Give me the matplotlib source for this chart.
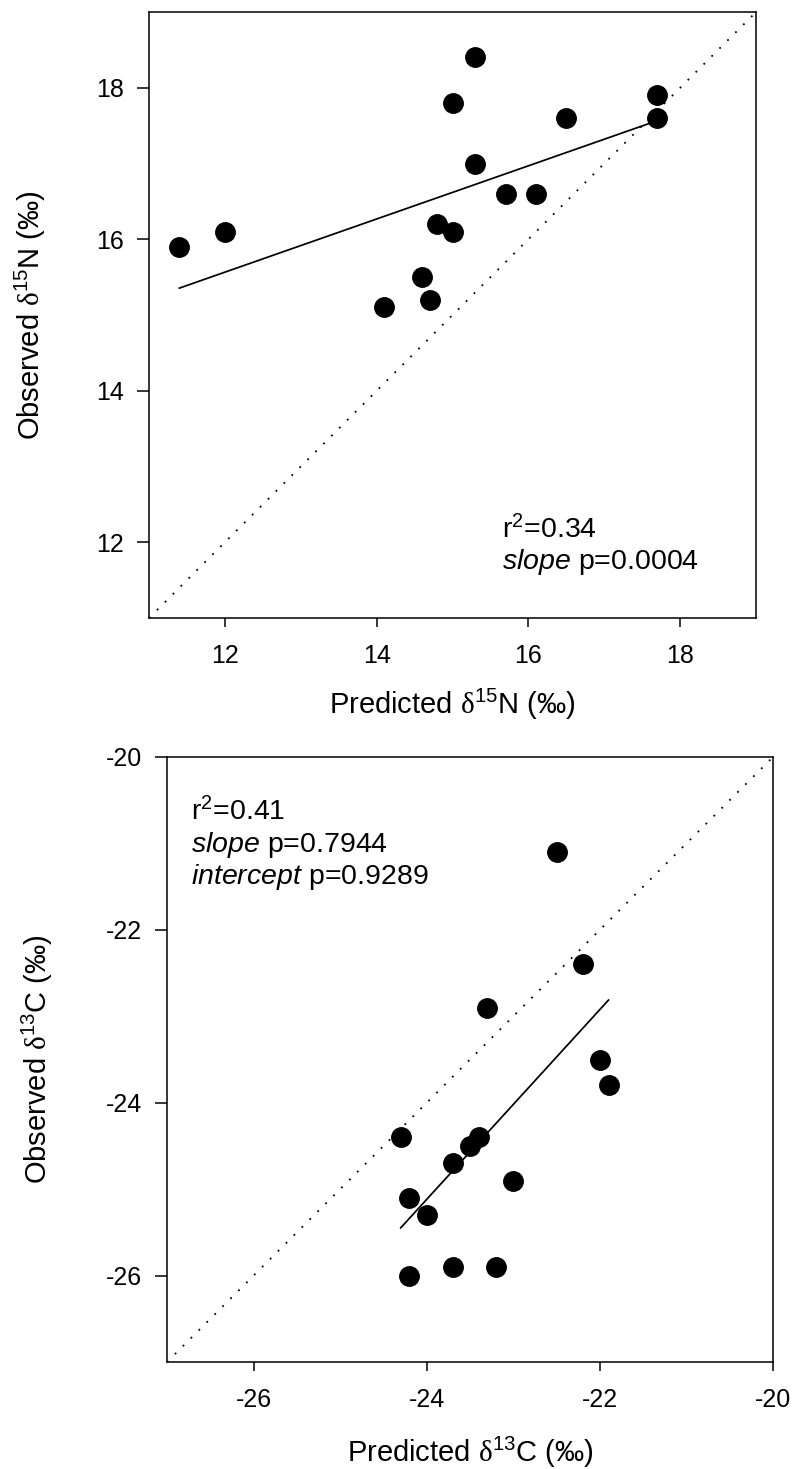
import numpy as np
import matplotlib
matplotlib.use("Agg")
import matplotlib.pyplot as plt

plt.rcParams["font.family"] = ["Liberation Sans", "DejaVu Sans"]
plt.rcParams["mathtext.fontset"] = "custom"
plt.rcParams["mathtext.rm"] = "Liberation Sans"
plt.rcParams["mathtext.it"] = "Liberation Sans:italic"
plt.rcParams["mathtext.sf"] = "Liberation Serif"
plt.rcParams["mathtext.default"] = "regular"
plt.rcParams["axes.unicode_minus"] = False

# nitrogen: predicted vs observed d15N
n_pred = [11.4, 12.0, 14.1, 14.6, 14.7, 14.8, 15.0, 15.7, 16.1,
          15.3, 15.0, 16.5, 15.3, 17.7, 17.7]
n_obs = [15.9, 16.1, 15.1, 15.5, 15.2, 16.2, 16.1, 16.6, 16.6,
         18.4, 17.8, 17.6, 17.0, 17.9, 17.6]
n_lim = [11, 19]
n_ticks = [12, 14, 16, 18]
n_notes = [r"r$^{2}$=0.34", r"$\mathit{slope}$ p=0.0004"]

# carbon: predicted vs observed d13C
c_pred = [-22.2, -23.3, -22.0, -21.9, -24.3, -23.4, -23.5, -23.7,
          -23.0, -24.2, -24.0, -24.2, -23.7, -23.2, -22.5]
c_obs = [-22.4, -22.9, -23.5, -23.8, -24.4, -24.4, -24.5, -24.7,
         -24.9, -25.1, -25.3, -26.0, -25.9, -25.9, -21.1]
c_lim = [-27, -20]
c_ticks = [-26, -24, -22, -20]
c_notes = [r"r$^{2}$=0.41", r"$\mathit{slope}$ p=0.7944",
           r"$\mathit{intercept}$ p=0.9289"]


def panel(ax, pred, obs, lim, ticks, iso, notes, note_x, note_y, ylab_x, xlab_y):
    pred = np.asarray(pred)
    obs = np.asarray(obs)

    # 1:1 line
    ax.plot(lim, lim, color="k", lw=1.3, ls=(0, (1, 5.2)), zorder=1)

    # least squares fit over the range of predictions
    slope, icpt = np.polyfit(pred, obs, 1)
    xs = np.array([pred.min(), pred.max()])
    ax.plot(xs, slope * xs + icpt, color="k", lw=1.25, zorder=2)

    ax.plot(pred, obs, "o", ms=14, color="k", mec="k", zorder=3)

    ax.set_xlim(lim)
    ax.set_ylim(lim)
    ax.set_xticks(ticks)
    ax.set_yticks(ticks)
    ax.tick_params(axis="x", length=6.5, width=1.1, pad=12, labelsize=18)
    ax.tick_params(axis="y", length=9, width=1.1, pad=9, labelsize=18)
    for sp in ax.spines.values():
        sp.set_linewidth(1.1)

    ax.set_xlabel("Predicted $\\mathsf{\\delta}^{%s}$%s (‰)" % iso, fontsize=21)
    ax.set_ylabel("Observed $\\mathsf{\\delta}^{%s}$%s (‰)" % iso, fontsize=21)
    ax.xaxis.set_label_coords(0.5, xlab_y)
    ax.yaxis.set_label_coords(ylab_x, 0.5)

    for s, y in zip(notes, note_y):
        ax.text(note_x, y, s, transform=ax.transAxes, fontsize=20.5,
                va="baseline", ha="left")


fig = plt.figure(figsize=(7.96, 14.69), dpi=100)
ax1 = fig.add_axes([0.1872, 0.5793, 0.7626, 0.4125])
ax2 = fig.add_axes([0.2098, 0.0728, 0.7613, 0.4119])

panel(ax1, n_pred, n_obs, n_lim, n_ticks, ("15", "N"), n_notes,
      0.5815, [0.132, 0.081], -0.166, -0.114)
panel(ax2, c_pred, c_obs, c_lim, c_ticks, ("13", "C"), c_notes,
      0.040, [0.896, 0.8435, 0.790], -0.185, -0.121)

fig.savefig("out.png", dpi=100)
